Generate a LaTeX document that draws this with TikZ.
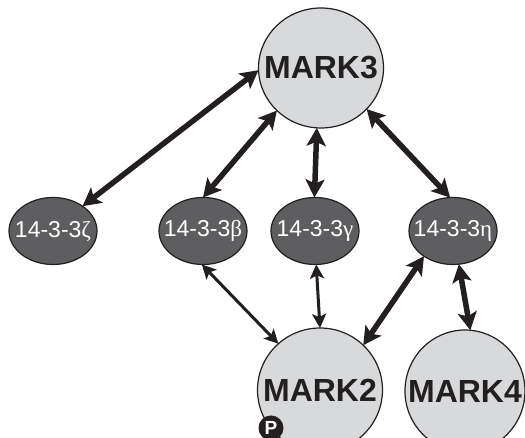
\documentclass[tikz,border=0pt]{standalone}
\usepackage{fontspec}
\setmainfont{Liberation Sans}
\newfontfamily\greekfont{Liberation Serif}
\usetikzlibrary{shapes.geometric,arrows.meta}
\definecolor{ink}{HTML}{231F20}
\definecolor{lightfill}{HTML}{D8D9DB}
\definecolor{darkfill}{HTML}{5E5E60}
\tikzset{
  kinase/.style={ellipse, draw=ink, line width=1.2pt, fill=lightfill, inner sep=0pt, outer sep=0pt},
  kinasetext/.style={font=\fontsize{32}{32}\selectfont\bfseries, text=ink, inner sep=0pt},
  adaptor/.style={ellipse, draw=ink, line width=1.2pt, fill=darkfill, inner sep=0pt, outer sep=0pt,
    minimum width=88pt, minimum height=67pt},
  adaptortext/.style={font=\fontsize{23}{23}\selectfont, text=white, inner sep=0pt},
  thicklink/.style={draw=ink, line width=5.5pt, {Stealth[length=18pt,width=19pt,inset=4pt]}-{Stealth[length=18pt,width=19pt,inset=4pt]}},
  thinlink/.style={draw=ink, line width=3pt, {Stealth[length=14pt,width=14pt,inset=3pt]}-{Stealth[length=14pt,width=14pt,inset=3pt]}},
  phospho/.style={circle, fill=ink, minimum size=25pt, inner sep=0pt, text=white,
    font=\fontsize{19}{19}\selectfont\bfseries}
}
\begin{document}
\begin{tikzpicture}[x=1pt,y=1pt]
\useasboundingbox (0,0) rectangle (525,438);

% MARK kinases
\node[kinase, minimum width=125pt, minimum height=120pt,
  label={[kinasetext]center:MARK3}] (m3) at (321,370) {};
\node[kinase, minimum width=125pt, minimum height=124pt,
  label={[kinasetext]center:MARK2}] (m2) at (320,48) {};
\node[kinase, minimum width=120pt, minimum height=122pt,
  label={[kinasetext]center:MARK4}] (m4) at (465,47) {};

% 14-3-3 isoforms
\node[adaptor, label={[adaptortext]center:14-3-3{\greekfont ζ}}] (z) at (53,207) {};
\node[adaptor, label={[adaptortext]center:14-3-3{\greekfont β}}] (b) at (203,207) {};
\node[adaptor, label={[adaptortext]center:14-3-3{\greekfont γ}}] (g) at (315,207) {};
\node[adaptor, label={[adaptortext]center:14-3-3{\greekfont η}}] (h) at (453,207) {};

% phosphorylation mark on MARK2
\node[phospho] (p) at (271,10) {P};

% interactions
\draw[thicklink] (m3.182) -- (z.40);
\draw[thicklink] (m3.224) -- (b.90);
\draw[thicklink] (m3.266) -- (g.91);
\draw[thicklink] (m3.318) -- (h.95);
\draw[thinlink] (b.268) -- (m2.132);
\draw[thinlink] (g.272) -- (m2.90);
\draw[thicklink] (h.221) -- (m2.46);
\draw[thicklink] (h.280) -- (m4.85);
\end{tikzpicture}
\end{document}
